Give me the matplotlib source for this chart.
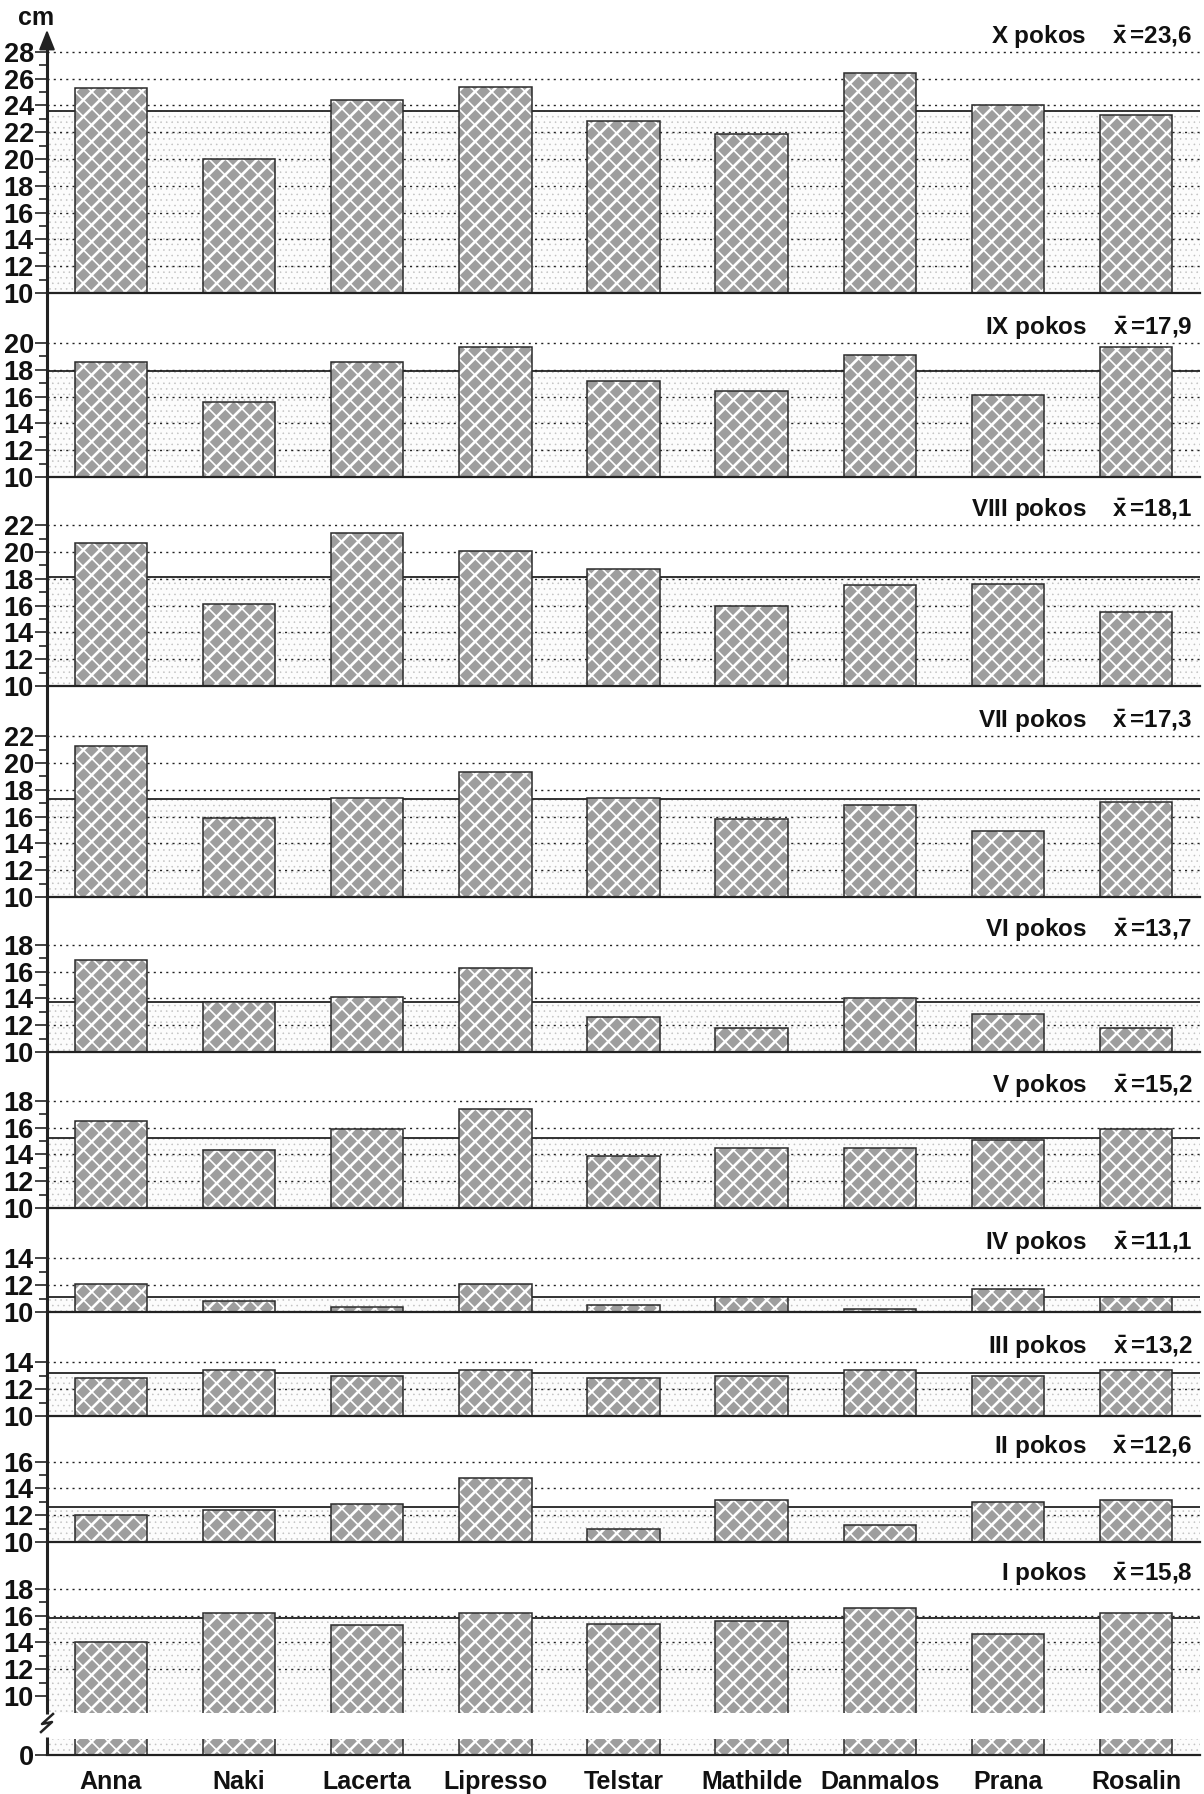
import matplotlib
matplotlib.use('Agg')
import matplotlib.pyplot as plt
from matplotlib.lines import Line2D
from matplotlib.patches import FancyArrowPatch

plt.rcParams['font.family'] = ['Liberation Sans', 'DejaVu Sans']
plt.rcParams['font.weight'] = 'bold'
plt.rcParams['mathtext.fontset'] = 'custom'
plt.rcParams['mathtext.bf'] = 'Liberation Sans:bold'
plt.rcParams['mathtext.rm'] = 'Liberation Sans:bold'
plt.rcParams['mathtext.it'] = 'Liberation Sans:bold'
plt.rcParams['hatch.linewidth'] = 1.3

# ---------------- data ----------------
varieties = ['Anna', 'Naki', 'Lacerta', 'Lipresso', 'Telstar',
             'Mathilde', 'Danmalos', 'Prana', 'Rosalin']

cut_names = ['X pokos', 'IX pokos', 'VIII pokos', 'VII pokos', 'VI pokos',
             'V pokos', 'IV pokos', 'III pokos', 'II pokos', 'I pokos']
mean_labels = ['23,6', '17,9', '18,1', '17,3', '13,7',
               '15,2', '11,1', '13,2', '12,6', '15,8']
mean_values = [23.6, 17.9, 18.1, 17.3, 13.7, 15.2, 11.1, 13.2, 12.6, 15.8]
top_ticks = [28, 20, 22, 22, 18, 18, 14, 14, 16, 18]

cut_X = [25.3, 20.0, 24.4, 25.4, 22.8, 21.9, 26.4, 24.0, 23.3]
cut_IX = [18.6, 15.6, 18.6, 19.7, 17.2, 16.4, 19.1, 16.1, 19.7]
cut_VIII = [20.7, 16.1, 21.4, 20.1, 18.7, 16.0, 17.5, 17.6, 15.5]
cut_VII = [21.3, 15.9, 17.4, 19.3, 17.4, 15.8, 16.9, 14.9, 17.1]
cut_VI = [16.9, 13.7, 14.1, 16.3, 12.6, 11.8, 14.0, 12.8, 11.8]
cut_V = [16.5, 14.3, 15.9, 17.4, 13.9, 14.5, 14.5, 15.1, 15.9]
cut_IV = [12.1, 10.8, 10.4, 12.1, 10.5, 11.1, 10.2, 11.7, 11.1]
cut_III = [12.8, 13.45, 12.95, 13.45, 12.8, 12.95, 13.45, 12.95, 13.45]
cut_II = [12.0, 12.4, 12.8, 14.8, 11.0, 13.1, 11.3, 13.0, 13.1]
cut_I = [14.0, 16.2, 15.3, 16.2, 15.4, 15.6, 16.6, 14.6, 16.2]

cuts = [cut_X, cut_IX, cut_VIII, cut_VII, cut_VI,
        cut_V, cut_IV, cut_III, cut_II, cut_I]

# ---------------- layout (pixels) ----------------
W, H = 1204, 1794
X0, X1 = 47, 1200
PXU = 13.4
bases = [293, 477, 686, 897, 1052, 1208, 1312, 1416, 1542, 1696]
DARK = '#222222'
TXT = '#111111'

fig = plt.figure(figsize=(W / 100, H / 100), dpi=100)
fig.patch.set_facecolor('white')
xs = list(range(len(varieties)))


def hatch_lw(artists, lw):
    for a in artists:
        if hasattr(a, 'set_hatch_linewidth'):
            try:
                a.set_hatch_linewidth(lw)
            except Exception:
                pass


def add_axes(base_px, base_val, ylo, yhi):
    bottom_px = base_px + (base_val - ylo) * PXU
    top_px = base_px - (yhi - base_val) * PXU
    ax = fig.add_axes([X0 / W, 1 - bottom_px / H, (X1 - X0) / W,
                       (bottom_px - top_px) / H])
    ax.set_facecolor('none')
    ax.set_xlim(-0.5, 8.5)
    ax.set_ylim(ylo, yhi)
    for s in ['top', 'right', 'left']:
        ax.spines[s].set_visible(False)
    ax.spines['bottom'].set_linewidth(1.6)
    ax.spines['bottom'].set_color(DARK)
    ax.spines['bottom'].set_zorder(6)
    ax.set_xticks([])
    ax.tick_params(axis='y', which='major', length=8.5, width=1.2,
                   color=DARK, labelsize=19.5, pad=1.0, labelcolor=TXT)
    ax.tick_params(axis='y', which='minor', length=5.5, width=1.2, color=DARK)
    return ax


def draw_bars(ax, vals, mean):
    with plt.rc_context({'hatch.linewidth': 0.4}):
        sp = ax.axhspan(0, mean, facecolor='#fcfcfc', edgecolor='#c2c2c2',
                        hatch='...', linewidth=0, zorder=1)
    hatch_lw([sp], 0.4)
    ax.axhline(mean, color=DARK, lw=1.3, zorder=2.2)
    with plt.rc_context({'hatch.linewidth': 1.9}):
        b1 = ax.bar(xs, vals, width=0.565, color='#9e9e9e', edgecolor='white',
                    linewidth=0, hatch='//', zorder=3)
    hatch_lw(b1.patches, 1.9)
    with plt.rc_context({'hatch.linewidth': 1.2}):
        b2 = ax.bar(xs, vals, width=0.565, facecolor='none', edgecolor='white',
                    linewidth=0, hatch='\\\\', zorder=3.1)
    hatch_lw(b2.patches, 1.2)
    ax.bar(xs, vals, width=0.565, facecolor='none', edgecolor='#2a2a2a',
           linewidth=1.1, zorder=4)


for i, (name, lab, mean, top, vals, base) in enumerate(
        zip(cut_names, mean_labels, mean_values, top_ticks, cuts, bases)):
    last = (i == len(cuts) - 1)
    ylo = 8.75 if last else 10
    ax = add_axes(base, 10, ylo, top + 1.5)
    if last:
        ax.spines['bottom'].set_visible(False)
    draw_bars(ax, vals, mean)
    majors = list(range(10, top + 1, 2))
    minors = list(range(11, top, 2))
    ax.set_yticks(majors)
    ax.set_yticks(minors, minor=True)
    for g in majors[1:]:
        ax.axhline(g, color=DARK, lw=1.0, linestyle=(0, (1.5, 3.0)), zorder=1.5)
    ax.text(8.44, top + 0.6, name + '    ' + r'$\bar{\mathbf{x}}\,$' + '=' + lab,
            ha='right', va='baseline', fontsize=17.5, fontweight='bold',
            color=TXT, clip_on=False, zorder=7)

# bottom segment of the broken axis (0 .. 1.2)
axb = add_axes(1755, 0, 0, 1.2)
draw_bars(axb, cut_I, 5.0)
axb.set_yticks([0])
axb.set_xticks(xs)
axb.set_xticklabels(varieties, fontsize=18, fontweight='bold', color=TXT)
axb.tick_params(axis='x', length=0, pad=11)

# vertical axis line with arrow and break
fx = X0 / W


def fy(px):
    return 1 - px / H


fig.add_artist(Line2D([fx, fx], [fy(1714), fy(38)], transform=fig.transFigure,
                      color=DARK, lw=2.2, solid_capstyle='butt'))
fig.add_artist(Line2D([fx, fx], [fy(1755), fy(1737)], transform=fig.transFigure,
                      color=DARK, lw=2.2, solid_capstyle='butt'))
fig.add_artist(FancyArrowPatch((fx, fy(45)), (fx, fy(27)), transform=fig.transFigure,
                               arrowstyle='-|>,head_length=0.55,head_width=0.22',
                               mutation_scale=22, color=DARK, lw=1.5))
zig_x = [(X0 + 6) / W, (X0 - 5) / W, (X0 + 5) / W, (X0 - 6) / W]
zig_y = [fy(1714), fy(1724), fy(1722), fy(1732)]
fig.add_artist(Line2D(zig_x, zig_y, transform=fig.transFigure, color=DARK, lw=1.8))

fig.text(36 / W, fy(25), 'cm', ha='center', va='baseline', fontsize=18,
         fontweight='bold', color=TXT)

fig.savefig('out.png', dpi=100, facecolor='white')
